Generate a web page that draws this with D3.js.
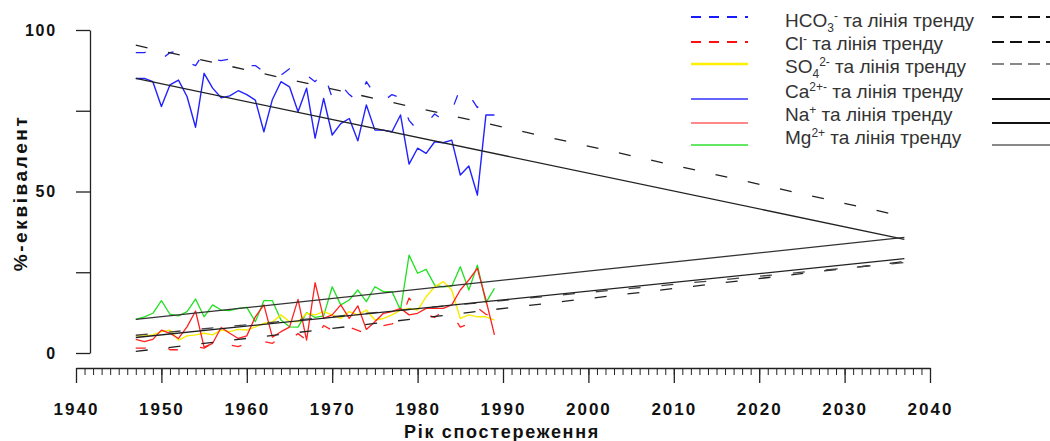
<!DOCTYPE html>
<html>
<head>
<meta charset="utf-8">
<script src="https://cdn.jsdelivr.net/npm/d3@7"></script>
<style>
  html, body { margin: 0; padding: 0; background: #ffffff; }
  svg { display: block; }
</style>
</head>
<body>
<svg id="chart" width="1050" height="441"></svg>
<script>
// ---------------- DATA ----------------
const years = [1947,1948,1949,1950,1951,1952,1953,1954,1955,1956,
               1957,1958,1959,1960,1961,1962,1963,1964,1965,1966,
               1967,1968,1969,1970,1971,1972,1973,1974,1975,1976,
               1977,1978,1979,1980,1981,1982,1983,1984,1985,1986,
               1987,1988,1989];

const hco3 = [93,93,94,91,93,93.5,90,89,93,91,
              90.5,91,90,89,89,87,88,86,88,85,
              86,84,87,79,83,80,78,84,80,78,
              80,79,72,69,71,74,72,75,82,80,
              76,78,79];
const cl   = [1.5,1.5,2,3,1,1,3,2,1.5,3,
              4,2.5,2,3,4,3.5,3,5,4,6,
              4,4.5,8.5,7,6,8,7,6,8,8.5,
              9,10,17,14,12,11,13,12,8,9,
              14,12,11];
const so4  = [5.3,5.3,5.6,6.6,7.1,4,5.3,5.6,6.1,5.6,
              7.1,6.6,7.3,7.1,8.1,9.2,9.6,11.8,9.7,9.7,
              12.3,11.8,12.8,11.8,10.7,12.8,11.8,13.3,10.2,10.7,
              11.8,13.3,13.8,13.3,17.4,20.5,22.1,19.5,10.7,11.8,
              11.2,11.2,10.2];
const ca   = [85,85,84,76.3,83,84.5,79.4,69.9,86.6,82,
              79,79.6,81.2,80,78.3,68.5,78.5,84,82.4,74.7,
              82,66.5,78.8,67.5,71,72.6,65.7,76.8,69,69,
              68.5,73.7,58.5,63.4,61.8,65.4,65.1,65.9,55.1,57.9,
              48.9,73.7,73.7];
const na   = [4.2,3.5,4.2,7.1,6.1,4.5,8.1,13,1.8,3,
              7.9,6.1,4.5,5.3,11.2,14.9,4.9,6.6,8,16.6,
              4,21.8,10.7,11.8,14.9,10.7,14.6,7.3,9.7,12.3,
              12.8,13.8,11.8,12.3,13.8,13.8,13.8,14.9,19.5,22.6,
              26.2,16.4,5.6];
const mg   = [10.4,11.2,12.3,16.2,12,11.5,12.8,16.7,11.2,14.9,
              13.3,13.1,13.8,14.1,9.7,16.2,16.2,10.2,8.1,8,
              12.5,11,11.5,20.5,14.9,16.4,19.5,15.9,20.5,19,
              19,13.3,30.3,24.7,25.9,21,20.5,20.7,26.7,19.5,
              27.2,15.6,20];

// trend lines (values read at the first and last year of each line)
const trendYears = [1947, 2037];
const trendHCO3 = [95.3, 42.2];
const trendCl   = [0.5, 28.3];
const trendSO4  = [5.5, 28.0];
const trendCa   = [85.0, 35.2];
const trendNa   = [4.8, 29.2];
const trendMg   = [10.4, 35.8];

// axis ticks
const yTickValues = [0, 25, 50, 75, 100];
const yTickLabels = ["0", "", "50", "", "100"];
const xMajorTicks = [1940,1950,1960,1970,1980,1990,2000,2010,2020,2030,2040];

// legend entries
const legendMain = ["HCO", "Cl", "SO", "Ca", "Na", "Mg"];
const legendSub  = ["3", "", "4", "", "", ""];
const legendSup  = ["-", "-", "2-", "2+-", "+", "2+"];
const legendTail = " та лінія тренду";

// ---------------- DRAW ----------------
const svg = d3.select("#chart");
const FONT = "'Liberation Sans', Arial, Helvetica, sans-serif";

const x = d3.scaleLinear().domain([1940, 2040]).range([76, 930]);
const y = d3.scaleLinear().domain([0, 100]).range([353, 30]);

// Y axis
const yAxis = d3.axisLeft(y)
  .tickValues(yTickValues)
  .tickSize(14)
  .tickSizeOuter(0)
  .tickPadding(19)
  .tickFormat((d, i) => yTickLabels[i]);
const gy = svg.append("g").attr("transform", "translate(90,0)").call(yAxis);
gy.select(".domain").attr("stroke", "#222").attr("stroke-width", 1.3);
gy.selectAll(".tick line").attr("stroke", "#222").attr("stroke-width", 1.3);
gy.selectAll(".tick text")
  .attr("font-family", FONT).attr("font-weight", "bold").attr("font-size", 16)
  .attr("letter-spacing", 1.8).attr("fill", "#111");

// X axis (separate, below)
const xMinor = d3.axisBottom(x)
  .tickValues(d3.range(1940, 2041, 1))
  .tickSize(7).tickSizeOuter(0).tickFormat("");
const gxm = svg.append("g").attr("transform", "translate(0,368)").call(xMinor);
gxm.select(".domain").attr("stroke", "#222").attr("stroke-width", 1.3);
gxm.selectAll(".tick line").attr("stroke", "#222").attr("stroke-width", 1);

const xMajor = d3.axisBottom(x)
  .tickValues(xMajorTicks)
  .tickSize(15).tickSizeOuter(0).tickFormat(d3.format("d"));
const gx = svg.append("g").attr("transform", "translate(0,368)").call(xMajor);
gx.select(".domain").remove();
gx.selectAll(".tick line").attr("stroke", "#222").attr("stroke-width", 1.3);
gx.selectAll(".tick text")
  .attr("y", 47).attr("dy", 0)
  .attr("font-family", FONT).attr("font-weight", "bold").attr("font-size", 17)
  .attr("letter-spacing", 2).attr("fill", "#111");

// Axis titles
svg.append("text")
  .attr("x", 502).attr("y", 438).attr("text-anchor", "middle")
  .attr("font-family", FONT).attr("font-weight", "bold").attr("font-size", 18)
  .attr("letter-spacing", 1.7).attr("fill", "#111")
  .text("Рік спостереження");

svg.append("text")
  .attr("transform", "translate(27,193) rotate(-90)")
  .attr("text-anchor", "middle")
  .attr("font-family", FONT).attr("font-weight", "bold").attr("font-size", 19)
  .attr("letter-spacing", 2.6).attr("fill", "#111")
  .text("%-еквівалент");

// Data lines
const plot = svg.append("g");
const line = d3.line().x((d, i) => x(years[i])).y(d => y(d));

const series = [
  { v: hco3, color: "#2222ff", dash: "10,25", w: 1.3 },
  { v: cl,   color: "#ff2020", dash: "10,25", w: 1.3 },
  { v: mg,   color: "#22e022", dash: null,    w: 1.3 },
  { v: so4,  color: "#f8ec00", dash: null,    w: 1.4 },
  { v: na,   color: "#ff2020", dash: null,    w: 1.3 },
  { v: ca,   color: "#2222ff", dash: null,    w: 1.4 }
];
series.forEach(s => {
  plot.append("path")
    .attr("d", line(s.v))
    .attr("fill", "none")
    .attr("stroke", s.color)
    .attr("stroke-width", s.w)
    .attr("stroke-dasharray", s.dash)
    .attr("stroke-linejoin", "round");
});

// Trend lines
const tline = d3.line().x((d, i) => x(trendYears[i])).y(d => y(d));
const trends = [
  { v: trendHCO3, color: "#222", dash: "12,21" },
  { v: trendCl,   color: "#222", dash: "12,21" },
  { v: trendSO4,  color: "#444", dash: "12,21" },
  { v: trendCa,   color: "#222", dash: null },
  { v: trendNa,   color: "#222", dash: null },
  { v: trendMg,   color: "#333", dash: null }
];
trends.forEach(t => {
  plot.append("path")
    .attr("d", tline(t.v))
    .attr("fill", "none")
    .attr("stroke", t.color)
    .attr("stroke-width", 1.3)
    .attr("stroke-dasharray", t.dash);
});

// Legend
const leg = svg.append("g");
const legTextY = [27, 50, 73, 98, 121, 144];
const legLineY = [17, 42, 64, 99, 123, 145];
const legColor = ["#1a1aff", "#ff1010", "#ffee00", "#3030ff", "#ff6060", "#30e030"];
const legColorW = [2.2, 2.2, 2.6, 1.6, 1.6, 1.6];
const legDash = ["10,8", "10,8", null, null, null, null];
const legTrendColor = ["#111", "#111", "#888", "#111", "#111", "#888"];
const legTrendDash = ["12,6", "12,6", "12,6", null, null, null];

legendMain.forEach((m, i) => {
  leg.append("line")
    .attr("x1", 691).attr("x2", 748)
    .attr("y1", legLineY[i]).attr("y2", legLineY[i])
    .attr("stroke", legColor[i]).attr("stroke-width", legColorW[i])
    .attr("stroke-dasharray", legDash[i]);
  leg.append("line")
    .attr("x1", 992).attr("x2", 1050)
    .attr("y1", legLineY[i]).attr("y2", legLineY[i])
    .attr("stroke", legTrendColor[i]).attr("stroke-width", 2.2)
    .attr("stroke-dasharray", legTrendDash[i]);

  const t = leg.append("text")
    .attr("x", 785).attr("y", legTextY[i])
    .attr("font-family", FONT).attr("font-size", 19).attr("fill", "#333");
  t.append("tspan").text(m);
  if (legendSub[i]) {
    t.append("tspan").attr("dy", 5).attr("font-size", 12).text(legendSub[i]);
    t.append("tspan").attr("dy", -12).attr("font-size", 12).text(legendSup[i]);
    t.append("tspan").attr("dy", 7).text(legendTail);
  } else {
    t.append("tspan").attr("dy", -7).attr("font-size", 12).text(legendSup[i]);
    t.append("tspan").attr("dy", 7).text(legendTail);
  }
});
</script>
</body>
</html>
